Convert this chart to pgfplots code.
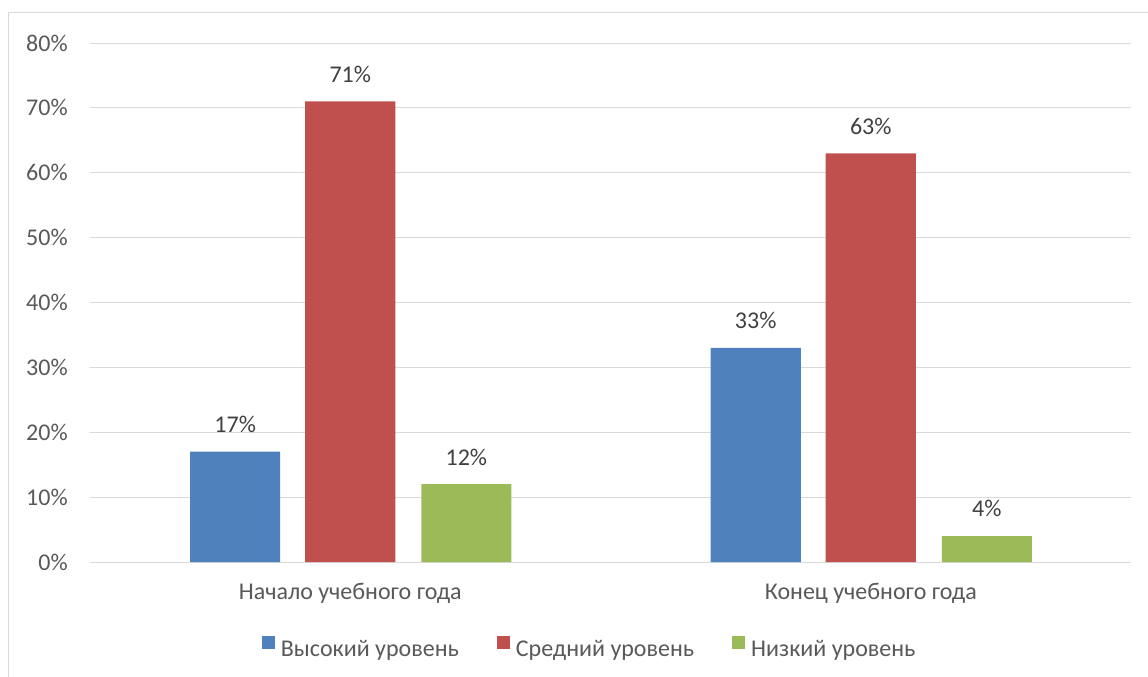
\documentclass[border=0pt]{standalone}
\usepackage{pgfplots}
\pgfplotsset{compat=1.18}
\usepackage{fontspec}
\setmainfont{Carlito}

\definecolor{cblue}{HTML}{4F81BD}
\definecolor{cred}{HTML}{C0504D}
\definecolor{cgreen}{HTML}{9BBB59}
\definecolor{gridgray}{HTML}{D9D9D9}
\definecolor{ticktext}{HTML}{595959}
\definecolor{valtext}{HTML}{404040}

\newcommand\lbl{\fontsize{18}{21.5}\selectfont}

\begin{document}
\begin{tikzpicture}
\useasboundingbox (0,0) rectangle (861pt,507pt);
% outer chart border (only left and top edges fall inside the picture)
\draw[gridgray, line width=0.75pt] (6pt,-5pt) -- (6pt,497.25pt) -- (870pt,497.25pt);
\begin{axis}[
    at={(67.5pt,85.5pt)}, anchor=south west,
    scale only axis, width=780.75pt, height=389.25pt,
    ybar, bar width=0.173,
    xmin=-0.5, xmax=1.5, ymin=0, ymax=80,
    xtick={0,1},
    xticklabels={Начало учебного года, Конец учебного года},
    ytick={0,10,...,80},
    yticklabels={0\%,10\%,20\%,30\%,40\%,50\%,60\%,70\%,80\%},
    major tick length=0pt,
    axis line style={draw=none},
    ymajorgrids, grid style={gridgray, line width=0.75pt},
    tick label style={font=\lbl, text=ticktext, inner sep=0pt},
    yticklabel style={anchor=east},
    xticklabel style={anchor=north},
    yticklabel shift=16.5pt, xticklabel shift=16pt,
    ytick style={draw=none}, xtick style={draw=none},
    /pgf/number format/assume math mode=true,
    nodes near coords={\pgfmathprintnumber{\pgfplotspointmeta}\%},
    every node near coord/.append style={font=\lbl, text=valtext, inner sep=0pt, anchor=south, yshift=14pt},
    legend style={draw=none, at={(0.479,-0.164)}, anchor=center, font=\lbl, text=ticktext,
        nodes={inner sep=0pt},
        /tikz/every odd column/.append style={column sep=4.5pt},
        /tikz/every even column/.append style={column sep=28.5pt}},
    legend columns=3,
    legend image code/.code={\fill[#1] (0pt,0.2pt) rectangle (9.75pt,9.95pt);},
]
\addplot[fill=cblue, draw=none, bar shift=-0.221] coordinates {(0,17) (1,33)};
\addplot[fill=cred, draw=none, bar shift=0] coordinates {(0,71) (1,63)};
\addplot[fill=cgreen, draw=none, bar shift=0.223] coordinates {(0,12) (1,4)};
\legend{Высокий уровень, Средний уровень, Низкий уровень}
\end{axis}
\end{tikzpicture}
\end{document}
